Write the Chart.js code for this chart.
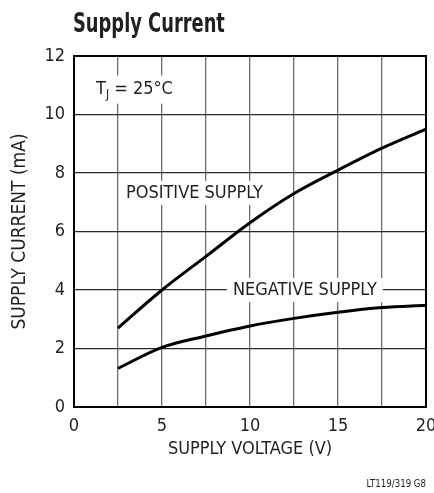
<!DOCTYPE html>
<html>
<head>
<meta charset="utf-8">
<script src="https://cdn.jsdelivr.net/npm/chart.js@4.4.1/dist/chart.umd.min.js"></script>
<style>
    html, body { margin: 0; padding: 0; background: #fff; }
    #wrap { width: 434px; height: 493px; position: relative; }
</style>
</head>
<body>
<div id="wrap"><canvas id="supplyChart" width="434" height="493"></canvas></div>
<script>
const voltage = [2.5, 5, 7.5, 10, 12.5, 15, 17.5, 20];
const positiveSupply = [2.7, 4.0, 5.15, 6.3, 7.3, 8.1, 8.85, 9.5];
const negativeSupply = [1.32, 2.04, 2.43, 2.77, 3.03, 3.24, 3.40, 3.48];
const xTickLabels = ['0', '5', '10', '15', '20'];
const yTickLabels = ['0', '2', '4', '6', '8', '10', '12'];

const FONT = "'Liberation Sans Narrow', 'DejaVu Sans Condensed', Arial, sans-serif";
const INK = '#231f20';

function toPoints(xs, ys) {
    return xs.map((x, i) => ({ x: x, y: ys[i] }));
}

// text squeezed horizontally, to get closer to the condensed face of the original
function squeezedText(ctx, text, x, y, font, sx, align) {
    ctx.save();
    ctx.font = font;
    ctx.textAlign = align || 'left';
    ctx.translate(x, y);
    ctx.scale(sx, 1);
    ctx.fillText(text, 0, 0);
    const w = ctx.measureText(text).width * sx;
    ctx.restore();
    return w;
}

// labels drawn on the plot with a white box that cuts the grid
function boxedText(ctx, text, x, y, padX, padY, size) {
    ctx.font = `${size}px ${FONT}`;
    const w = ctx.measureText(text).width;
    ctx.fillStyle = '#fff';
    ctx.fillRect(x - padX, y - size / 2 - padY, w + padX * 2, size + padY * 2);
    ctx.fillStyle = INK;
    ctx.textBaseline = 'middle';
    ctx.textAlign = 'left';
    ctx.fillText(text, x, y);
}

const decorPlugin = {
    id: 'decor',
    beforeDatasetsDraw(chart) {
        const ctx = chart.ctx;
        const xs = chart.scales.x, ys = chart.scales.y;
        ctx.save();

        // T_J = 25°C
        const tx = xs.getPixelForValue(1.25), ty = ys.getPixelForValue(10.85);
        ctx.fillStyle = '#fff';
        ctx.fillRect(tx - 4, ty - 14, 80, 28);
        ctx.fillStyle = INK;
        ctx.textBaseline = 'middle';
        ctx.textAlign = 'left';
        ctx.font = `18px ${FONT}`;
        ctx.fillText('T', tx, ty);
        let w = ctx.measureText('T').width;
        ctx.font = `12px ${FONT}`;
        ctx.fillText('J', tx + w, ty + 5);
        w += ctx.measureText('J').width;
        ctx.font = `18px ${FONT}`;
        ctx.fillText(' = 25°C', tx + w, ty);

        boxedText(ctx, 'POSITIVE SUPPLY', xs.getPixelForValue(2.95), ys.getPixelForValue(7.32), 4, 3, 18);
        boxedText(ctx, 'NEGATIVE SUPPLY', xs.getPixelForValue(9.03), ys.getPixelForValue(4.0), 6, 3, 18);

        // frame
        const a = chart.chartArea;
        ctx.strokeStyle = '#000';
        ctx.lineWidth = 2;
        ctx.strokeRect(a.left, a.top, a.right - a.left, a.bottom - a.top);
        ctx.restore();
    },
    afterDraw(chart) {
        const ctx = chart.ctx;
        const a = chart.chartArea;
        ctx.save();
        ctx.fillStyle = INK;
        ctx.textBaseline = 'alphabetic';
        squeezedText(ctx, 'Supply Current', a.left - 1, 32, `bold 27px ${FONT}`, 0.735, 'left');
        squeezedText(ctx, 'LT119/319 G8', a.right, 487, `11px ${FONT}`, 0.87, 'right');
        ctx.restore();
    }
};

new Chart(document.getElementById('supplyChart'), {
    type: 'line',
    data: {
        datasets: [
            {
                label: 'POSITIVE SUPPLY',
                data: toPoints(voltage, positiveSupply),
                borderColor: '#000',
                borderWidth: 3,
                pointRadius: 0,
                cubicInterpolationMode: 'monotone',
                fill: false
            },
            {
                label: 'NEGATIVE SUPPLY',
                data: toPoints(voltage, negativeSupply),
                borderColor: '#000',
                borderWidth: 3,
                pointRadius: 0,
                cubicInterpolationMode: 'monotone',
                fill: false
            }
        ]
    },
    options: {
        responsive: false,
        animation: false,
        devicePixelRatio: 1,
        layout: { padding: { top: 56, right: 8, left: 0, bottom: 33 } },
        plugins: {
            legend: { display: false },
            tooltip: { enabled: false }
        },
        scales: {
            x: {
                type: 'linear',
                min: 0,
                max: 20,
                ticks: {
                    stepSize: 2.5,
                    color: INK,
                    font: { family: FONT, size: 18 },
                    padding: 9,
                    maxRotation: 0,
                    autoSkip: false,
                    callback: v => xTickLabels.includes(String(v)) ? String(v) : ''
                },
                grid: { color: '#6e6e6e', lineWidth: 1.3, drawTicks: false },
                border: { display: false },
                title: {
                    display: true,
                    text: 'SUPPLY VOLTAGE (V)',
                    color: INK,
                    font: { family: FONT, size: 18 },
                    padding: { top: 0, bottom: 0 }
                },
                afterFit: scale => {
                    scale.height = 53;
                    scale.paddingLeft = 0;
                    scale.paddingRight = 0;
                }
            },
            y: {
                min: 0,
                max: 12,
                ticks: {
                    stepSize: 2,
                    color: INK,
                    font: { family: FONT, size: 18 },
                    padding: 9,
                    callback: v => yTickLabels.includes(String(v)) ? String(v) : ''
                },
                grid: { color: '#2a2a2a', lineWidth: 1.3, drawTicks: false },
                border: { display: false },
                title: {
                    display: true,
                    text: 'SUPPLY CURRENT (mA)',
                    color: INK,
                    font: { family: FONT, size: 19 },
                    padding: { top: 9, bottom: 0 }
                },
                afterFit: scale => {
                    scale.width = 74;
                }
            }
        }
    },
    plugins: [decorPlugin]
});
</script>
</body>
</html>
